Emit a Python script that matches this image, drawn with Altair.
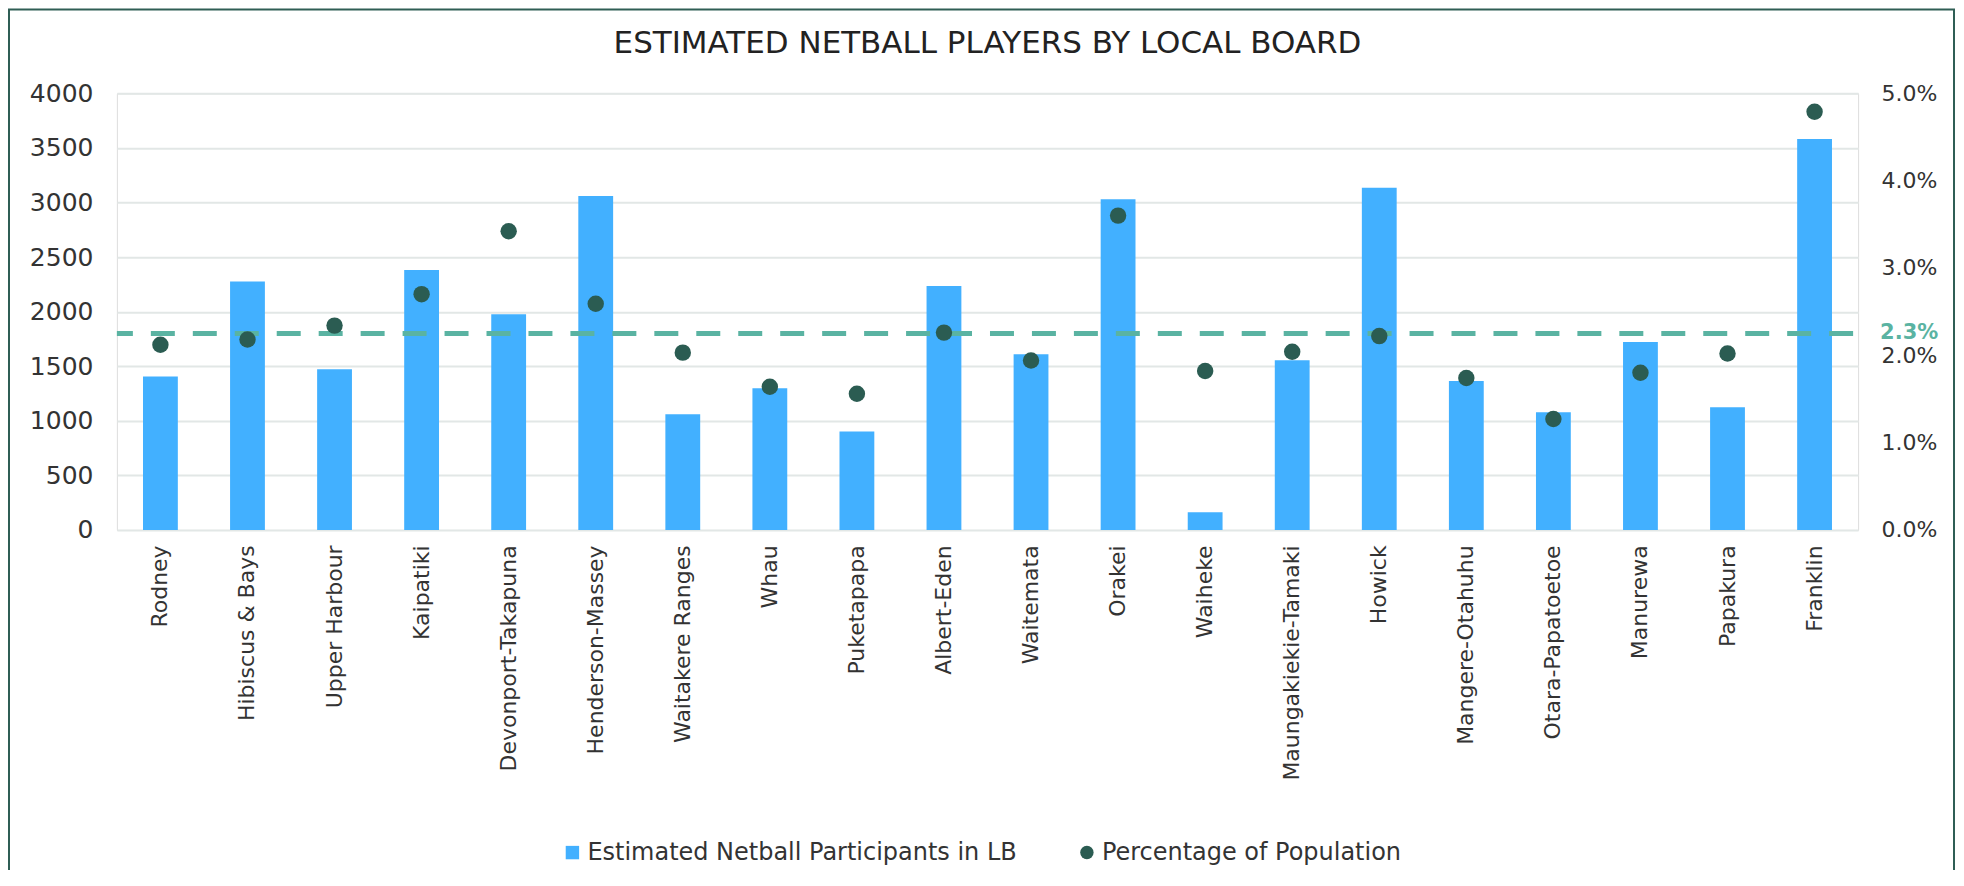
import altair as alt
import pandas as pd

boards = ["Rodney", "Hibiscus & Bays", "Upper Harbour", "Kaipatiki", "Devonport-Takapuna",
          "Henderson-Massey", "Waitakere Ranges", "Whau", "Puketapapa", "Albert-Eden",
          "Waitemata", "Orakei", "Waiheke", "Maungakiekie-Tamaki", "Howick",
          "Mangere-Otahuhu", "Otara-Papatoetoe", "Manurewa", "Papakura", "Franklin"]
participants = [1405, 2275, 1472, 2382, 1976, 3060, 1060, 1298, 901, 2235,
                1609, 3029, 162, 1554, 3136, 1365, 1078, 1722, 1124, 3582]
pct_population = [0.0212, 0.0218, 0.0234, 0.0270, 0.0342, 0.0259, 0.0203, 0.0164, 0.0156, 0.0226,
                  0.0194, 0.0360, 0.0182, 0.0204, 0.0222, 0.0174, 0.0127, 0.0180, 0.0202, 0.0479]
average_pct = 0.0225
average_label = "2.3%"
series_names = ["Estimated Netball Participants in LB", "Percentage of Population"]
left_ticks = [0, 500, 1000, 1500, 2000, 2500, 3000, 3500, 4000]
right_ticks = [0.0, 0.01, 0.02, 0.03, 0.04, 0.05]

df = pd.DataFrame({"board": boards, "participants": participants, "pct": pct_population})

FONT = "DejaVu Sans"
BAR = "#42B0FF"
DOT = "#2B5C52"
TEAL = "#5AB3A2"
GRID = "#E2E7E6"
TEXT = "#333333"
W, H = 1743, 437

color_scale = alt.Scale(domain=series_names, range=[BAR, DOT])
shape_scale = alt.Scale(domain=series_names, range=["square", "circle"])
legend = alt.Legend(title=None, orient="none", legendX=444, legendY=748, direction="horizontal",
                    labelFont=FONT, labelFontSize=24, labelColor=TEXT, symbolSize=180,
                    symbolStrokeWidth=0, labelOffset=3, columnPadding=58, padding=0,
                    labelLimit=0)

x_enc = alt.X("board:N", sort=boards, title=None,
              scale=alt.Scale(paddingInner=0.6, paddingOuter=0.3),
              axis=alt.Axis(labelAngle=-90, labelFont=FONT, labelFontSize=22, labelColor=TEXT,
                            domain=False, ticks=False, labelPadding=15, grid=False,
                            labelLimit=0))

bars = alt.Chart(df).transform_calculate(series=f"'{series_names[0]}'").mark_bar().encode(
    x=x_enc,
    y=alt.Y("participants:Q", title=None, scale=alt.Scale(domain=[0, 4000], nice=False),
            axis=alt.Axis(values=left_ticks, format="d", grid=True, gridColor=GRID, gridWidth=2,
                          domain=False, ticks=False, labelFont=FONT, labelFontSize=25,
                          labelColor=TEXT, labelPadding=24)),
    color=alt.Color("series:N", scale=color_scale, legend=legend),
)

points = alt.Chart(df).transform_calculate(series=f"'{series_names[1]}'").mark_point(
    filled=True, size=270, opacity=1).encode(
    x=alt.X("board:N", sort=boards),
    y=alt.Y("pct:Q", title=None, scale=alt.Scale(domain=[0, 0.05], nice=False),
            axis=alt.Axis(orient="right", values=right_ticks, format=".1%", grid=False,
                          domain=False, ticks=False, labelFont=FONT, labelFontSize=22,
                          labelColor=TEXT, labelPadding=23)),
    color=alt.Color("series:N", scale=color_scale, legend=legend),
    shape=alt.Shape("series:N", scale=shape_scale, legend=legend),
)

avg_df = pd.DataFrame({"avg": [average_pct], "label": [average_label]})
rule = alt.Chart(avg_df).mark_rule(color=TEAL, strokeWidth=5, strokeDash=[24, 18],
                                   strokeDashOffset=37).encode(y="avg:Q")
avg_text = alt.Chart(avg_df).mark_text(align="left", baseline="middle", font=FONT, fontSize=21,
                                       fontWeight="bold", color=TEAL).encode(
    y="avg:Q", x=alt.value(W + 22), text="label:N")

frame = alt.Chart(avg_df).mark_rect(fill="transparent", stroke="#2F5E55", strokeWidth=2).encode(
    x=alt.value(-108), x2=alt.value(1839), y=alt.value(-84), y2=alt.value(900))

right_layer = alt.layer(rule, points, avg_text, frame)

chart = alt.layer(bars, right_layer).resolve_scale(y="independent").properties(
    width=W, height=H,
    title=alt.Title("ESTIMATED NETBALL PLAYERS BY LOCAL BOARD", font=FONT, fontSize=31,
                    fontWeight="normal", color="#222222", anchor="middle", frame="group",
                    baseline="middle", offset=-67),
    autosize=alt.AutoSizeParams(type="none"),
    padding={"left": 109, "top": 85, "right": 98, "bottom": 340},
).configure_view(stroke=None).configure(background="white")

chart.save("out.html", embed_options={"renderer": "svg", "actions": False})
